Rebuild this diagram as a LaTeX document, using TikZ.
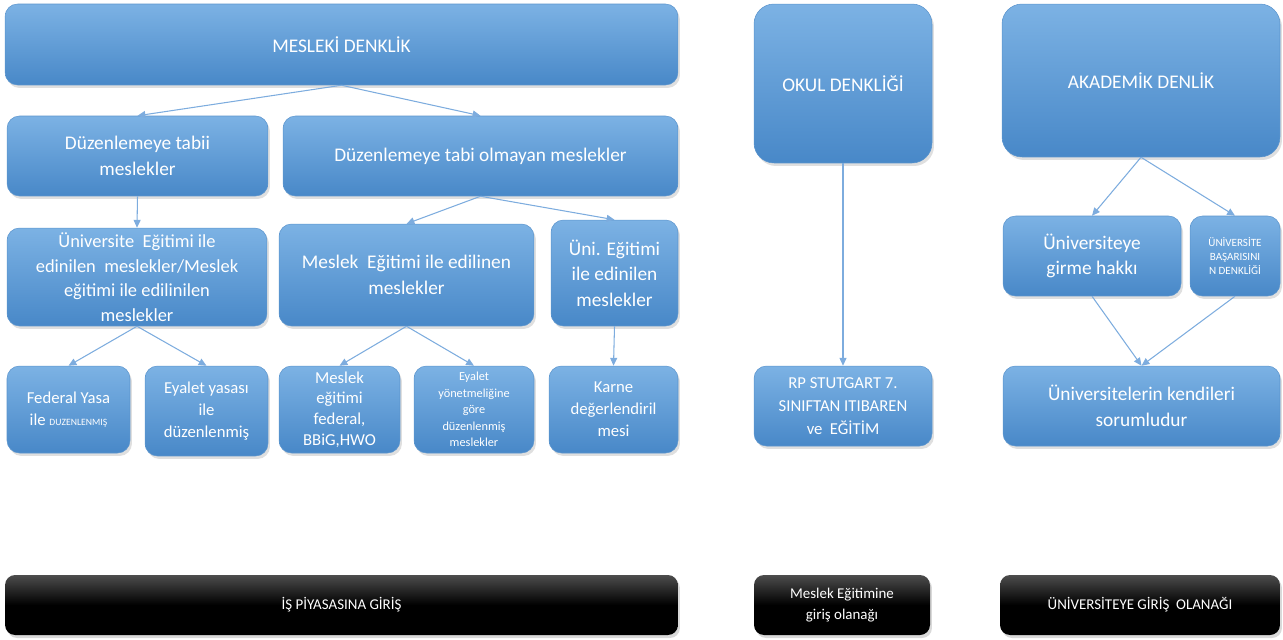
\documentclass[tikz,border=0pt]{standalone}
\usepackage{fontspec}
\setmainfont{Carlito}
\usetikzlibrary{arrows.meta,shadows}

\definecolor{boxtop}{RGB}{124,178,228}
\definecolor{boxbot}{RGB}{72,136,200}
\definecolor{arrcol}{RGB}{125,172,222}

\begin{document}
\begin{tikzpicture}[x=0.02cm, y=-0.02cm,
    blubox/.style={rounded corners=0.25cm, top color=boxtop, bottom color=boxbot,
      draw=boxbot!90, line width=0.3pt, text=white, align=center, inner sep=2pt,
      drop shadow={opacity=0.25, shadow xshift=0.04cm, shadow yshift=-0.06cm}},
    blkbox/.style={rounded corners=0.2cm, top color=black!70, bottom color=black,
      middle color=black, text=white, align=center, inner sep=2pt,
      drop shadow={opacity=0.3, shadow xshift=0.04cm, shadow yshift=-0.06cm}},
    arr/.style={draw=arrcol, line width=0.6pt, -{Triangle[length=4.5pt, width=4pt]}},
    big/.style={font=\fontsize{11}{14.5}\selectfont},
    mid/.style={font=\fontsize{9.5}{12.5}\selectfont},
    small/.style={font=\fontsize{7}{9.4}\selectfont},
    tiny/.style={font=\fontsize{6.3}{7.8}\selectfont}]
  \useasboundingbox (0,0) rectangle (1283,639);

  % meslekî denklik
  \node[blubox, big, minimum width=13.46cm, minimum height=1.62cm] at (341.5,44.5) (mesleki) {MESLEKİ DENKLİK};
  \node[blubox, big, minimum width=5.22cm, minimum height=1.6cm] at (137.5,156) (tabii) {Düzenlemeye tabii\\meslekler};
  \node[blubox, big, minimum width=7.9cm, minimum height=1.6cm] at (480.5,156) (olmayan) {Düzenlemeye tabi olmayan meslekler};
  \node[blubox, font=\fontsize{10.5}{14}\selectfont, minimum width=5.2cm, minimum height=1.96cm] at (137,277) (univ) {Üniversite~ Eğitimi ile\\edinilen~ meslekler/Meslek\\eğitimi ile edilinilen\\meslekler};
  \node[blubox, big, minimum width=5.1cm, minimum height=2.04cm] at (406.5,275) (mesegt) {Meslek~ Eğitimi ile edilinen\\meslekler};
  \node[blubox, big, minimum width=2.54cm, minimum height=2.12cm] at (614.5,273) (unied) {Üni. Eğitimi\\ile edinilen\\meslekler};
  \node[blubox, mid, minimum width=2.46cm, minimum height=1.74cm] at (68.5,409.5) (federal) {Federal Yasa\\ile {\fontsize{5.5}{7}\selectfont DUZENLENMIŞ}};
  \node[blubox, mid, minimum width=2.46cm, minimum height=1.8cm] at (206.5,411) (eyalet) {Eyalet yasası\\ile\\düzenlenmiş};
  \node[blubox, mid, minimum width=2.42cm, minimum height=1.74cm, font=\fontsize{9.5}{11.8}\selectfont] at (339.5,409.5) (mfed) {Meslek\\eğitimi\\federal,\\BBiG,HWO};
  \node[blubox, small, minimum width=2.4cm, minimum height=1.74cm] at (474,409.5) (eyon) {Eyalet\\yönetmeliğine\\göre\\düzenlenmiş\\meslekler};
  \node[blubox, mid, minimum width=2.58cm, minimum height=1.74cm] at (613.5,409.5) (karne) {Karne\\değerlendiril\\mesi};

  % okul denkliği
  \node[blubox, big, rounded corners=0.4cm, minimum width=3.56cm, minimum height=3.18cm] at (843,83.5) (okul) {OKUL DENKLİĞİ};
  \node[blubox, mid, font=\fontsize{9.5}{13}\selectfont, minimum width=3.56cm, minimum height=1.6cm] at (843,406) (rp) {RP STUTGART 7.\\SINIFTAN ITIBAREN\\ve~ EĞİTİM};

  % akademik denklik
  \node[blubox, big, rounded corners=0.4cm, minimum width=5.56cm, minimum height=3.06cm] at (1141,80.5) (akad) {AKADEMİK DENLİK};
  \node[blubox, big, minimum width=3.56cm, minimum height=1.6cm] at (1092,256) (girme) {Üniversiteye\\girme hakkı};
  \node[blubox, tiny, minimum width=1.8cm, minimum height=1.6cm] at (1235,256) (basari) {ÜNİVERSİTE\\BAŞARISINI\\N DENKLİĞİ};
  \node[blubox, big, minimum width=5.54cm, minimum height=1.6cm] at (1141.5,406) (kendi) {Üniversitelerin kendileri\\sorumludur};

  % giriş olanakları
  \node[blkbox, font=\fontsize{8.5}{11.5}\selectfont, minimum width=13.46cm, minimum height=1.2cm] at (341.5,605) (is) {İŞ PİYASASINA GİRİŞ};
  \node[blkbox, font=\fontsize{8.5}{11.5}\selectfont, minimum width=3.52cm, minimum height=1.2cm] at (842,605) (mgiris) {Meslek Eğitimine\\giriş olanağı};
  \node[blkbox, font=\fontsize{8.5}{11.5}\selectfont, minimum width=5.6cm, minimum height=1.2cm] at (1140,605) (ugiris) {ÜNİVERSİTEYE GİRİŞ~ OLANAĞI};

  \draw[arr] (mesleki.south) -- (tabii.north);
  \draw[arr] (mesleki.south) -- (olmayan.north);
  \draw[arr] (tabii.south) -- (univ.north);
  \draw[arr] (olmayan.south) -- (mesegt.north);
  \draw[arr] (olmayan.south) -- (unied.north);
  \draw[arr] (univ.south) -- (federal.north);
  \draw[arr] (univ.south) -- (eyalet.north);
  \draw[arr] (mesegt.south) -- (mfed.north);
  \draw[arr] (mesegt.south) -- (eyon.north);
  \draw[arr] (unied.south) -- (karne.north);
  \draw[arr] (okul.south) -- (rp.north);
  \draw[arr] (akad.south) -- (girme.north);
  \draw[arr] (akad.south) -- (basari.north);
  \draw[arr] (girme.south) -- (kendi.north);
  \draw[arr] (basari.south) -- (kendi.north);
\end{tikzpicture}
\end{document}
